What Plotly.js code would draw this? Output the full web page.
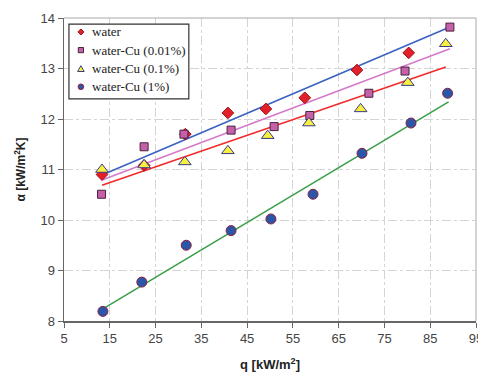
<!DOCTYPE html>
<html><head><meta charset="utf-8">
<script src="https://cdn.plot.ly/plotly-3.0.1.min.js"></script>
<style>body{margin:0;background:#fff;overflow:hidden}#c{width:478px;height:372px}</style>
</head><body><div id="c"></div>
<script>
// data
var seriesNames = ['water', 'water-Cu (0.01%)', 'water-Cu (0.1%)', 'water-Cu (1%)'];
var waterQ = [13.3, 22.5, 31.5, 40.8, 49.1, 57.6, 69.0, 80.3];
var waterA = [10.90, 11.08, 11.70, 12.12, 12.20, 12.42, 12.97, 13.31];
var cu001Q = [13.2, 22.5, 31.2, 41.5, 50.9, 58.7, 71.6, 79.5, 89.3];
var cu001A = [10.51, 11.45, 11.70, 11.78, 11.85, 12.07, 12.51, 12.95, 13.82];
var cu01Q = [13.3, 22.5, 31.4, 40.8, 49.5, 58.5, 69.8, 80.1, 88.4];
var cu01A = [11.00, 11.09, 11.15, 11.37, 11.67, 11.92, 12.20, 12.72, 13.49];
var cu1Q = [13.5, 22.0, 31.7, 41.5, 50.2, 59.4, 70.1, 80.8, 88.8];
var cu1A = [8.19, 8.77, 9.50, 9.79, 10.02, 10.51, 11.32, 11.92, 12.51];
// trend line end points
var blueQ = [13.3, 89.3], blueA = [10.89, 13.82];
var pinkQ = [13.3, 89.3], pinkA = [10.79, 13.39];
var redQ = [13.3, 88.4], redA = [10.69, 13.03];
var greenQ = [13.5, 89.0], greenA = [8.24, 12.34];
var xTicks = [5, 15, 25, 35, 45, 55, 65, 75, 85, 95];
var yTicks = [8, 9, 10, 11, 12, 13, 14];

var styles = [
  {symbol: 'diamond', size: 9, color: '#e2202a', line: {color: '#a01018', width: 1}},
  {symbol: 'square', size: 8, color: '#c461a8', line: {color: '#4a2040', width: 1}},
  {symbol: 'triangle-up', size: 11, color: '#f8f040', line: {color: '#3a3a8a', width: 1}},
  {symbol: 'circle', size: 10, color: '#2a56a8', line: {color: '#902040', width: 1}}
];

function line(x, y, c) {
  return {x: x, y: y, mode: 'lines', type: 'scatter', showlegend: false,
    line: {color: c, width: 1.6}, hoverinfo: 'skip'};
}
function pts(x, y, i) {
  return {x: x, y: y, name: seriesNames[i], mode: 'markers', type: 'scatter',
    showlegend: false, marker: styles[i]};
}
var traces = [
  line(blueQ, blueA, '#3a62c2'),
  line(pinkQ, pinkA, '#d47ac8'),
  line(redQ, redA, '#f22a2a'),
  line(greenQ, greenA, '#3aa04a'),
  pts(waterQ, waterA, 0),
  pts(cu001Q, cu001A, 1),
  pts(cu01Q, cu01A, 2),
  pts(cu1Q, cu1A, 3)
];

// custom legend (paper coords)
var rowY = [0.954, 0.894, 0.832, 0.773];
var mx = 0.041, tx = 0.063;
var shapes = [
  {type: 'line', xref: 'paper', yref: 'paper', x0: 0, x1: 1, y0: 1, y1: 1,
    line: {color: '#a8a8a8', width: 1}},
  {type: 'line', xref: 'paper', yref: 'paper', x0: 1, x1: 1, y0: 0, y1: 1,
    line: {color: '#a8a8a8', width: 1}},
  {type: 'rect', xref: 'paper', yref: 'paper', x0: 0.012, x1: 0.303, y0: 0.733, y1: 0.980,
    fillcolor: '#fff', line: {color: '#333', width: 1.2}, layer: 'above'}
];
var symPaths = [
  'M0,3L3,0L0,-3L-3,0Z',
  'M-2.6,2.6H2.6V-2.6H-2.6Z',
  'M0,3.2L3.3,-2.6H-3.3Z',
  null
];
var annotations = [];
for (var i = 0; i < 4; i++) {
  var s = {xref: 'paper', yref: 'paper', xsizemode: 'pixel', ysizemode: 'pixel',
    xanchor: mx, yanchor: rowY[i], layer: 'above',
    fillcolor: styles[i].color, line: {color: styles[i].line.color, width: 1}};
  if (symPaths[i]) { s.type = 'path'; s.path = symPaths[i]; }
  else { s.type = 'circle'; s.x0 = -2.8; s.x1 = 2.8; s.y0 = -2.8; s.y1 = 2.8; }
  shapes.push(s);
  annotations.push({xref: 'paper', yref: 'paper', x: tx, y: rowY[i], xanchor: 'left', yanchor: 'middle',
    text: seriesNames[i], showarrow: false,
    font: {family: 'Liberation Serif, Times New Roman, serif', size: 13, color: '#222'}});
}

var layout = {
  width: 478, height: 372,
  margin: {l: 64, r: 2, t: 18, b: 51},
  paper_bgcolor: '#fff', plot_bgcolor: '#fff',
  showlegend: false,
  xaxis: {range: [5, 95], tickvals: xTicks, ticktext: xTicks.map(String),
    showgrid: true, gridcolor: '#d4d4d4', griddash: 'dashdot', gridwidth: 1,
    showline: true, linecolor: '#666', linewidth: 1.5,
    ticks: 'outside', ticklen: 5, tickcolor: '#666', ticklabeloverflow: 'allow',
    tickfont: {family: 'Liberation Sans, Arial, sans-serif', size: 13, color: '#444'},
    zeroline: false,
    title: {text: '<b>q [kW/m<sup>2</sup>]</b>', standoff: 16,
      font: {family: 'Liberation Sans, Arial, sans-serif', size: 13, color: '#222'}}},
  yaxis: {range: [8, 14], tickvals: yTicks, ticktext: yTicks.map(String),
    showgrid: true, gridcolor: '#d4d4d4', griddash: 'dashdot', gridwidth: 1,
    showline: true, linecolor: '#666', linewidth: 1.5,
    ticks: 'outside', ticklen: 5, tickcolor: '#666',
    tickfont: {family: 'Liberation Sans, Arial, sans-serif', size: 13, color: '#444'},
    zeroline: false,
    title: {text: '<b>α [kW/m<sup>2</sup>K]</b>', standoff: 12,
      font: {family: 'Liberation Sans, Arial, sans-serif', size: 12, color: '#222'}}},
  shapes: shapes,
  annotations: annotations
};
Plotly.newPlot('c', traces, layout, {displayModeBar: false, staticPlot: true});
</script></body></html>
